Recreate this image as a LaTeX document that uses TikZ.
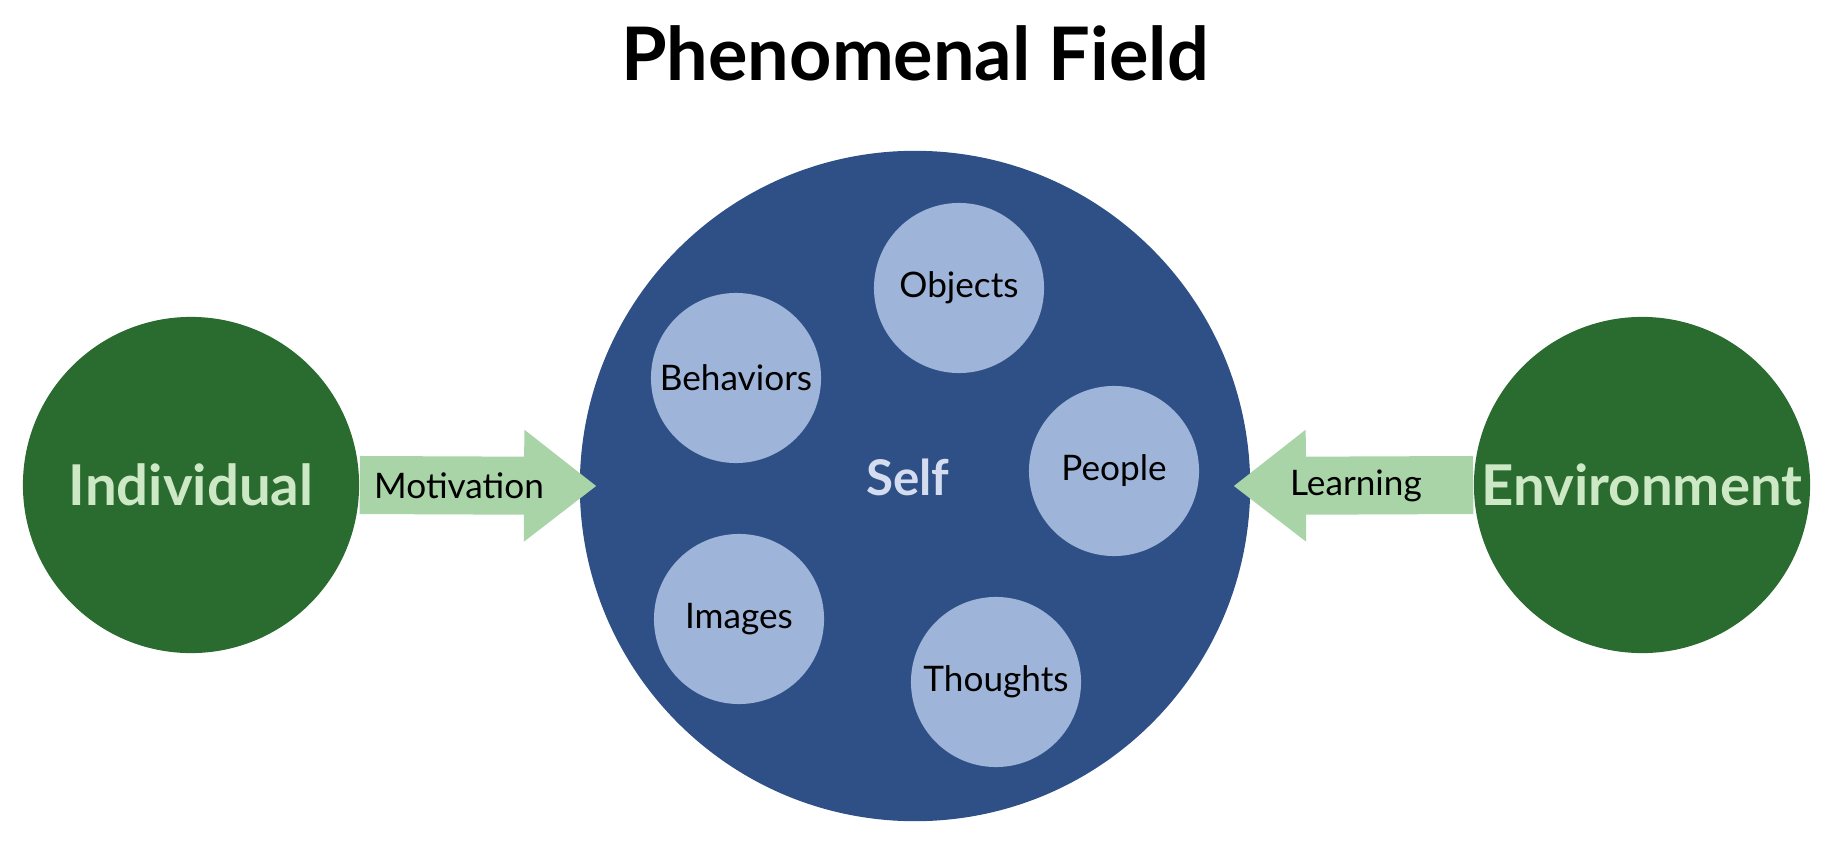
\documentclass[tikz,border=0pt]{standalone}
\usepackage{fontspec}
\setmainfont{Lato}
\usetikzlibrary{arrows.meta}

\definecolor{darkgreen}{HTML}{2A6B2F}
\definecolor{selfblue}{HTML}{2E5086}
\definecolor{paleblue}{HTML}{9EB4D8}
\definecolor{arrowgreen}{HTML}{A8D4A8}
\definecolor{greentext}{HTML}{CDE8C5}
\definecolor{selftext}{HTML}{D4DCF0}

\tikzset{
  outer/.style={circle, fill=darkgreen, minimum size=3.36cm, inner sep=0pt,
    text=greentext, font=\fontsize{16}{19}\selectfont\bfseries},
  inner/.style={circle, fill=paleblue, minimum size=1.70cm, inner sep=0pt,
    font=\fontsize{10}{12}\selectfont},
  flow/.style={draw=arrowgreen, line width=0.58cm,
    -{Triangle[width=1.12cm, length=0.72cm, line width=0pt]}},
  flowlabel/.style={font=\fontsize{10}{12}\selectfont, text=black}
}

\begin{document}
\begin{tikzpicture}[x=0.01cm, y=-0.01cm]
    \useasboundingbox (0,0) rectangle (1831,843);

    % Title
    \node[font=\fontsize{21}{25}\selectfont\bfseries] (title) at (915,53) {Phenomenal Field};

    % Self circle
    \node[circle, fill=selfblue, minimum size=6.70cm, inner sep=0pt] (self) at (915,486) {};
    \node[text=selftext, font=\fontsize{14}{17}\selectfont\bfseries] (selflabel) at (908,477) {Self};

    % Parts of the self
    \node[inner] (objects) at (959,288) {Objects};
    \node[inner] (behaviors) at (736,378) {Behaviors};
    \node[inner] (people) at (1114,471) {People};
    \node[inner] (images) at (739,619) {Images};
    \node[inner] (thoughts) at (996,682) {Thoughts};

    % Individual and environment
    \node[outer] (indiv) at (191,485) {Individual};
    \node[outer] (env) at (1642,485) {Environment};

    % Arrows into the self
    \draw[flow] (indiv.east) -- ([xshift=0.17cm]self.west)
        node[flowlabel, pos=0.42] (motiv) {Motivation};
    \draw[flow] (env.west) -- ([xshift=-0.17cm]self.east)
        node[flowlabel, pos=0.49] (learn) {Learning};
\end{tikzpicture}
\end{document}
